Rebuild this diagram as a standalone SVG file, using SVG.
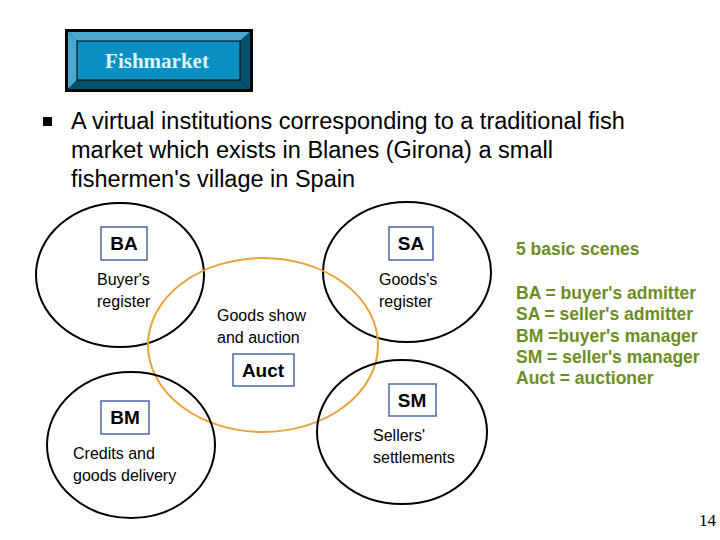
<svg xmlns="http://www.w3.org/2000/svg" width="720" height="540" viewBox="0 0 720 540">
<style>
text{font-family:"Liberation Sans",Arial,sans-serif;fill:#000}
.c{fill:none;stroke:#000;stroke-width:2}
.lb{fill:#fff;stroke:#4a6aa0;stroke-width:1.5}
.k{font-size:19px;text-anchor:middle;font-weight:bold}
.t{font-size:16px}
.g{fill:#6b8e23;font-weight:bold;font-size:17.5px}
</style>
<rect width="720" height="540" fill="#fff"/>
<g id="title">
<rect x="65" y="29" width="188" height="63" fill="#000"/>
<polygon points="68,32 250,32 240,41 77,41" fill="#4aa8d0"/>
<polygon points="68,32 77,41 77,80 68,89" fill="#4aa8d0"/>
<polygon points="250,32 250,89 240,80 240,41" fill="#05506e"/>
<polygon points="68,89 250,89 240,80 77,80" fill="#05506e"/>
<rect x="77" y="41" width="163" height="39" fill="#0a8fc2" stroke="#000" stroke-width="1"/>
<text x="157" y="68" text-anchor="middle" style="font-family:'Liberation Serif',serif;font-size:21px;font-weight:bold;fill:#dff4fb">Fishmarket</text>
</g>
<g id="intro">
<rect x="43" y="117" width="9" height="9" fill="#000"/>
<text x="71" y="129" font-size="23.5">A virtual institutions corresponding to a traditional fish</text>
<text x="71" y="158" font-size="23.5">market which exists in Blanes (Girona) a small</text>
<text x="71" y="187" font-size="23.5">fishermen's village in Spain</text>
</g>
<g id="BA">
<ellipse class="c" cx="120" cy="275" rx="84" ry="72"/>
<rect class="lb" x="101" y="227" width="46" height="33"/>
<text class="k" x="124" y="250">BA</text>
<text class="t" x="97" y="285">Buyer's</text>
<text class="t" x="97" y="307">register</text>
</g>
<g id="SA">
<ellipse class="c" cx="407" cy="272" rx="84" ry="70"/>
<rect class="lb" x="389" y="227" width="44" height="33"/>
<text class="k" x="411" y="250">SA</text>
<text class="t" x="379" y="285">Goods's</text>
<text class="t" x="379" y="307">register</text>
</g>
<g id="Auct">
<ellipse cx="263" cy="345" rx="115" ry="87" fill="none" stroke="#e8a33a" stroke-width="2"/>
<text class="t" x="217" y="321">Goods show</text>
<text class="t" x="217" y="343">and auction</text>
<rect class="lb" x="233" y="354" width="61" height="32"/>
<text class="k" x="263" y="377">Auct</text>
</g>
<g id="BM">
<ellipse class="c" cx="131" cy="445" rx="84" ry="73"/>
<rect class="lb" x="101" y="401" width="48" height="33"/>
<text class="k" x="125" y="424">BM</text>
<text class="t" x="73" y="459">Credits and</text>
<text class="t" x="73" y="481">goods delivery</text>
</g>
<g id="SM">
<ellipse class="c" cx="402" cy="432" rx="85" ry="72"/>
<rect class="lb" x="389" y="384" width="47" height="32"/>
<text class="k" x="412" y="407">SM</text>
<text class="t" x="373" y="441">Sellers'</text>
<text class="t" x="373" y="463">settlements</text>
</g>
<g id="legend">
<text class="g" x="516" y="255" font-size="18">5 basic scenes</text>
<text class="g" x="516" y="299">BA = buyer's admitter</text>
<text class="g" x="516" y="320">SA = seller's admitter</text>
<text class="g" x="516" y="342">BM =buyer's manager</text>
<text class="g" x="516" y="363">SM = seller's manager</text>
<text class="g" x="516" y="384">Auct = auctioner</text>
</g>
<text x="716" y="526" text-anchor="end" style="font-family:'Liberation Serif',serif;font-size:17px">14</text>
<g id="connectors"/>
</svg>
